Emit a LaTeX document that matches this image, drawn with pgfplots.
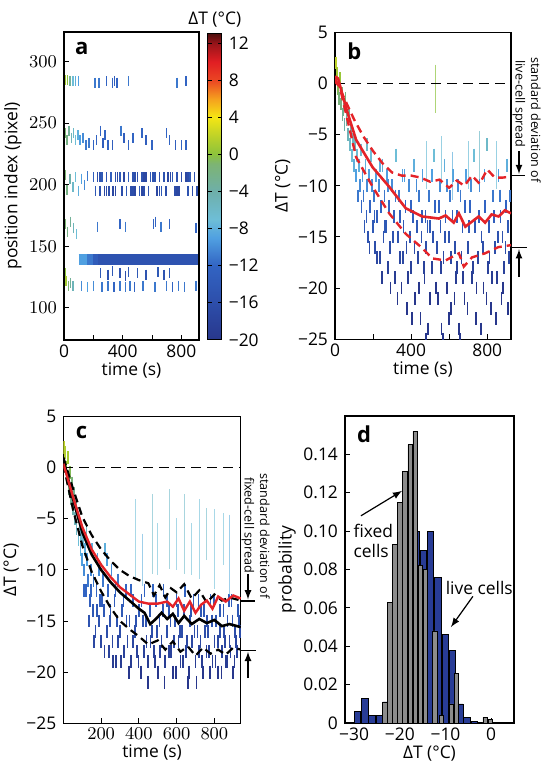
\documentclass[border=0pt]{standalone}
\usepackage{fontspec}
\setmainfont{Open Sans}
\usepackage{pgfplots}
\usepackage{pgfplotstable}
\pgfplotsset{compat=1.18}

\definecolor{barblue}{RGB}{40,60,150}
\definecolor{bargray}{RGB}{140,140,140}
\definecolor{curvered}{RGB}{228,35,40}

\pgfplotsset{
  colormap={dT}{rgb255(0cm)=(40,55,140) rgb255(4cm)=(45,78,170) rgb255(8cm)=(50,100,195)
    rgb255(11cm)=(80,160,225) rgb255(13cm)=(110,190,215) rgb255(16cm)=(110,175,170)
    rgb255(19cm)=(125,180,115) rgb255(20cm)=(140,195,60) rgb255(22cm)=(190,210,40)
    rgb255(24cm)=(245,230,20) rgb255(26cm)=(245,160,30) rgb255(28cm)=(235,70,35)
    rgb255(30cm)=(225,30,35) rgb255(32cm)=(150,20,25) rgb255(33cm)=(80,15,15)},
  panel/.style={
    scale only axis,
    axis line style={line width=0.6pt},
    tick pos=left,
    tick style={black, line width=0.5pt},
    major tick length=2.5pt,
    tick label style={font=\fontsize{8.7}{10}\selectfont},
    label style={font=\fontsize{8.7}{10}\selectfont},
    xticklabel style={yshift=1pt},
    xlabel style={yshift=4.5pt},
    ylabel style={yshift=-3pt},
    colormap name=dT,
    point meta min=-20, point meta max=13,
    clip marker paths=true,
  },
  streaks/.style={scatter, only marks, mark=|, mark size=#1,
    scatter/use mapped color={draw=mapped color, fill=mapped color},
    mark options={line width=0.85pt}},
}

% panel a: streaks (time, position, dT)
\pgfplotstableread{
x y c
10 285 1
25 285 0
40 284 -3
60 284 -7
80 284 -8
100 284 -9
210 283 -11
240 283 -11
290 284 -12
330 283 -12
345 284 -13
360 283 -12
440 284 -11
770 283 -11
830 284 -12
10 242 -1
20 236 -2
35 244 -3
50 238 -5
65 242 -6
80 236 -7
95 240 -8
110 236 -9
130 238 -10
150 232 -11
170 234 -11
200 232 -12
220 236 -12
250 244 -12
265 234 -13
280 240 -12
300 232 -12
330 232 -13
390 244 -11
410 238 -13
440 232 -12
470 238 -12
530 242 -12
560 236 -13
600 232 -12
700 242 -12
720 236 -12
760 232 -13
800 232 -12
830 232 -12
10 208 -1
20 196 -2
40 205 -4
60 198 -6
80 206 -7
100 195 -8
120 205 -9
140 200 -10
160 207 -11
200 206 -13
215 195 -14
230 206 -16
245 195 -15
260 206 -14
275 195 -17
290 206 -15
305 195 -16
320 206 -13
335 195 -17
350 206 -16
380 206 -14
395 195 -16
410 206 -17
425 195 -14
440 206 -13
455 195 -16
470 206 -15
485 195 -17
500 206 -16
515 195 -14
530 206 -15
545 195 -16
560 206 -17
575 195 -15
590 206 -14
620 206 -15
635 195 -17
650 206 -16
665 195 -14
680 206 -15
695 195 -16
710 206 -17
740 206 -14
755 195 -16
770 206 -15
785 195 -17
800 206 -16
830 206 -17
845 195 -15
860 206 -14
875 195 -16
890 206 -15
905 195 -16
245 206 -15
365 206 -17
485 206 -16
545 206 -17
605 206 -15
725 206 -17
845 206 -16
290 195 -16
350 195 -17
470 195 -16
530 195 -17
650 195 -16
770 195 -17
10 168 -1
25 162 -2
45 170 -3
65 165 -5
85 160 -7
230 166 -11
380 168 -12
420 166 -11
610 168 -12
625 170 -12
660 166 -11
720 168 -12
900 165 -12
250 128 -14
300 127 -15
330 130 -14
380 128 -15
420 126 -16
440 129 -14
500 128 -14
560 127 -15
640 129 -14
680 127 -15
720 128 -14
10 128 0
15 122 1
30 118 -1
45 120 -3
60 118 -5
120 118 -10
160 117 -9
200 118 -10
260 117 -11
300 118 -11
340 117 -12
380 118 -11
420 117 -11
450 118 -11
480 117 -12
540 118 -11
620 117 -11
700 118 -11
740 117 -12
780 118 -11
820 117 -11
900 118 -11
}\streaksA

% panel b: live-cell traces (time, dT)
\pgfplotstableread{
x y
5 2
10 1
15 -0.5
20 -1.5
25 0.5
30 -2
35 -1
40 -3
45 -2.5
50 -4
55 -1.5
60 -3.5
70 -5
75 -3
80 -6
85 -4.5
90 -7
95 -5.5
100 -8
105 -6
110 -9
115 -7
120 -11
125 -8
130 -10
135 -6.5
140 -12
145 -9
150 -11
160 -8
165 -13
170 -10
175 -15
180 -9
185 -12
190 -7
200 -14
205 -11
210 -16
215 -9
220 -13
230 -10
235 -17
240 -12
250 -8
255 -15
260 -11
270 -14
275 -9
280 -18
285 -12
290 -16
300 -10
310 -13
315 -19
320 -7
330 -15
335 -11
340 -17
350 -20
355 -9
360 -14
370 -12
375 -16
380 -22
390 -10
395 -15
400 -18
410 -13
415 -8
420 -21
430 -14
435 -17
440 -11
450 -23
455 -15
460 -9
470 -19
475 -13
480 -16
490 -24
495 -11
500 -14
510 -18
520 -7
525 -12
535 -16
540 -21
550 -10
555 -14
560 -24
570 -17
575 -8
580 -13
590 -20
600 -15
605 -11
610 -22
620 -9
630 -16
635 -19
640 -13
650 -24
660 -11
665 -17
670 -14
680 -21
690 -9
700 -16
710 -12
720 -19
730 -7
735 -14
740 -23
750 -17
760 -10
770 -15
780 -20
790 -12
800 -6
805 -18
810 -14
820 -22
830 -11
840 -16
850 -19
860 -9
870 -13
875 -21
880 -15
890 -18
900 -12
905 -8
910 -14
915 -17
155 -14
168 -6
182 -16
196 -10
208 -13
222 -17
238 -8
248 -19
262 -14
278 -10
292 -20
305 -15
318 -11
328 -21
342 -13
358 -17
366 -9
384 -19
398 -12
406 -23
418 -16
428 -10
442 -20
458 -13
466 -18
478 -25
486 -14
498 -21
508 -9
516 -15
532 -20
546 -12
558 -18
566 -25
578 -15
588 -10
598 -23
608 -17
618 -13
628 -21
642 -18
648 -10
658 -25
672 -19
684 -12
696 -22
706 -14
716 -10
726 -18
744 -20
756 -13
766 -24
776 -16
786 -9
796 -21
812 -17
826 -19
836 -13
846 -23
856 -15
866 -11
884 -20
896 -16
908 -22
918 -11
}\streaksB

% panel c: fixed-cell traces (time, dT)
\pgfplotstableread{
x y
5 2
10 1.5
15 0
20 -1
25 1
30 -2
35 -0.5
40 -3
45 -1.5
50 -4
55 -2.5
60 -5
65 -3.5
70 -6
75 -4.5
80 -7
85 -5.5
90 -8
95 -6.5
100 -9
105 -7
110 -10
115 -8
120 -12
125 -9
130 -11
140 -13
145 -10
150 -8
155 -14
160 -11
170 -16
175 -12
180 -9
190 -15
195 -13
200 -17
210 -11
215 -14
220 -8
230 -16
235 -12
240 -18
250 -14
255 -10
260 -17
270 -13
280 -19
285 -15
290 -11
300 -16
310 -14
320 -18
330 -12
340 -17
350 -15
360 -19
370 -13
380 -16
390 -18
400 -14
410 -20
420 -15
430 -12
440 -17
450 -19
460 -14
470 -16
480 -18
490 -13
500 -20
510 -15
520 -17
530 -12
540 -19
550 -16
560 -14
570 -18
580 -20
590 -15
600 -13
610 -17
620 -19
630 -16
640 -14
650 -18
660 -21
670 -15
680 -17
690 -13
700 -19
710 -16
720 -18
730 -14
740 -20
750 -16
760 -15
770 -18
780 -13
790 -19
800 -17
810 -15
820 -20
830 -14
840 -18
850 -16
860 -19
870 -15
880 -17
890 -13
900 -20
910 -16
920 -18
930 -15
108 -12
122 -6
135 -15
148 -12
162 -17
178 -14
188 -10
204 -13
218 -18
232 -9
246 -15
262 -19
276 -12
288 -17
306 -19
318 -13
334 -15
346 -20
358 -12
368 -17
386 -15
398 -19
414 -13
426 -18
438 -15
448 -21
462 -17
476 -12
486 -19
496 -16
512 -18
526 -14
536 -21
548 -13
558 -18
568 -15
586 -17
596 -20
606 -14
616 -16
634 -19
646 -12
656 -17
666 -20
676 -14
694 -16
706 -21
716 -13
726 -17
736 -19
746 -14
758 -18
768 -16
776 -20
788 -15
798 -13
806 -19
818 -17
828 -16
838 -20
848 -14
858 -17
868 -19
876 -13
886 -18
896 -15
906 -19
916 -17
926 -14
936 -16
}\streaksC

\begin{document}
\begin{tikzpicture}
\useasboundingbox (0,0) rectangle (272pt,-381pt);

% ---------------- a ----------------
\begin{axis}[panel,
  at={(32pt,-16pt)}, anchor=north west,
  width=67.5pt, height=154pt,
  xmin=0, xmax=920, ymin=74, ymax=324,
  xtick={0,200,...,800}, xticklabels={0,,400,,800},
  ytick={100,150,...,300},
  xlabel={time (s)}, ylabel={position index (pixel)},
  colorbar,
  colorbar style={
    at={(1.065,0.994)}, anchor=north west,
    scale only axis, width=7pt, height=153pt,
    ytick={-20,-16,...,12},
    yticklabels={−20,−16,−12,−8,−4,0,4,8,12},
    yticklabel pos=right,
    tick label style={font=\fontsize{8.7}{10}\selectfont},
    major tick length=2pt,
    title={ΔT (°C)},
    title style={font=\fontsize{8.7}{10}\selectfont, yshift=-6pt},
  },
]
\addplot[mesh, line width=5.5pt, point meta=explicit, forget plot]
  table[meta=c] {
x y c
100 139 -8
160 139 -10
200 139 -12
230 139 -15
910 139 -15
};
\addplot[streaks=2.5pt, point meta=explicit, mark options={line width=0.75pt}]
  table[x=x, y=y, meta=c] {\streaksA};
\node[anchor=north west, font=\bfseries\fontsize{11}{12}\selectfont] at (rel axis cs:0.03,0.99) {a};
\end{axis}

% ---------------- b ----------------
\begin{axis}[panel,
  at={(167.5pt,-16.2pt)}, anchor=north west,
  width=88pt, height=153.4pt,
  xmin=0, xmax=925, ymin=-25, ymax=5,
  xtick={0,200,...,800}, xticklabels={0,,400,,800},
  ytick={-25,-20,...,5}, yticklabels={−25,−20,−15,−10,−5,0,5},
  xlabel={time (s)}, ylabel={ΔT (°C)},
]
\addplot[streaks=3.2pt, point meta=y] table[x=x, y=y] {\streaksB};
\addplot[streaks=12pt, point meta=explicit, mark options={line width=0.5pt, opacity=0.7}]
  table[meta=c] {
x y c
480 -8 -7
527 -0.5 0
560 -7.5 -7
620 -9 -8
700 -8 -7
760 -7 -6
850 -8 -7
};
\addplot[black, dash pattern=on 5pt off 3pt, line width=0.6pt] coordinates {(0,0) (925,0)};
\addplot[curvered, line width=1.2pt, dash pattern=on 4pt off 2.5pt] coordinates {
(0,0.5) (50,-1.5) (100,-3.5) (150,-5.2) (200,-6.6) (250,-7.8) (300,-8.7) (350,-9.0)
(400,-9.0) (450,-9.2) (500,-9.6) (550,-9.4) (600,-10.2) (640,-9.5) (680,-10.0)
(720,-9.0) (760,-9.8) (800,-8.4) (840,-9.2) (880,-9.2) (925,-9.1)};
\addplot[curvered, line width=1.2pt, dash pattern=on 4pt off 2.5pt] coordinates {
(0,0.2) (25,-0.3) (111,-7.2) (198,-10.1) (285,-12.7) (372,-14.7) (459,-16.1) (511,-17.1)
(581,-17.3) (651,-16.6) (677,-17.9) (720,-17.0) (789,-16.6) (858,-16.0) (925,-15.8)};
\addplot[curvered, line width=1.3pt] coordinates {
(0,0.7) (16,0.5) (60,-2.5) (111,-5.5) (198,-8.2) (285,-10.1) (372,-12.2) (459,-13.0)
(546,-13.2) (581,-12.9) (624,-13.6) (651,-12.7) (685,-14.0) (720,-13.5) (755,-13.0)
(789,-13.6) (823,-12.8) (860,-13.0) (893,-12.4) (925,-12.7)};
\node[anchor=north west, font=\bfseries\fontsize{11}{12}\selectfont] at (rel axis cs:0.03,0.99) {b};
\end{axis}

% ---------------- c ----------------
\begin{axis}[panel,
  at={(31.7pt,-208.3pt)}, anchor=north west,
  width=88.7pt, height=153.3pt,
  xmin=0, xmax=940, ymin=-25, ymax=5,
  xtick={200,400,600,800},
  ytick={-25,-20,...,5}, yticklabels={−25,−20,−15,−10,−5,0,5},
  xlabel={time (s)}, ylabel={ΔT (°C)},
]
\addplot[streaks=3.2pt, point meta=y] table[x=x, y=y] {\streaksC};
\addplot[streaks=20pt, point meta=explicit, mark options={line width=0.5pt, opacity=0.6}]
  table[meta=c] {
x y c
380 -7 -7
470 -6.5 -6
560 -6 -6
640 -6.5 -6
720 -7 -7
800 -8 -7
880 -8.5 -8
};
\addplot[streaks=13pt, point meta=explicit, mark options={line width=0.5pt, opacity=0.6}]
  table[meta=c] {
x y c
420 -9 -8
500 -8 -7
600 -7.5 -7
680 -8 -7
760 -6.5 -6
850 -7 -7
};
\addplot[black, dash pattern=on 5pt off 3pt, line width=0.6pt] coordinates {(0,0) (940,0)};
\addplot[black, line width=1.1pt, dash pattern=on 4pt off 2.5pt] coordinates {
(0,1) (50,-2) (100,-4.8) (150,-6.6) (200,-8) (250,-9.1) (300,-10) (350,-10.6)
(400,-11.0) (450,-11.3) (480,-12.5) (510,-11.5) (540,-12.7) (570,-11.8) (600,-12.2)
(640,-11.4) (680,-12.8) (720,-12.0) (760,-13.2) (800,-12.4) (840,-13) (880,-12.7) (940,-13.0)};
\addplot[black, line width=1.1pt, dash pattern=on 4pt off 2.5pt] coordinates {
(0,0.3) (50,-4.0) (100,-7.6) (150,-10.2) (200,-12.1) (250,-13.7) (300,-15) (350,-15.8)
(400,-16.5) (450,-17.3) (500,-16.9) (540,-17.8) (580,-17.0) (620,-18.0) (660,-17.5)
(700,-18.4) (740,-17.6) (780,-18.2) (820,-17.8) (860,-18.3) (900,-17.6) (940,-17.8)};
\addplot[black, line width=1.3pt] coordinates {
(0,0.8) (50,-3) (100,-6.3) (150,-8.5) (200,-10) (250,-11.2) (300,-12.2) (350,-13)
(400,-13.8) (430,-14.2) (460,-15.3) (490,-14.8) (520,-14.2) (550,-14.8) (580,-14.3)
(610,-15.2) (640,-14.5) (680,-15.3) (720,-14.8) (760,-15.2) (800,-14.9) (840,-15.5)
(880,-15.3) (940,-15.6)};
\addplot[curvered, line width=1.2pt] coordinates {
(0,0.4) (50,-2.8) (100,-5.8) (150,-8) (200,-9.5) (250,-10.7) (300,-11.7) (350,-12.4)
(400,-13.1) (450,-13.3) (500,-13.3) (550,-13.1) (580,-13.6) (610,-12.8) (640,-14.0)
(670,-13.1) (700,-14.2) (730,-13.4) (760,-13.0) (790,-13.8) (820,-12.6) (860,-13.1)
(900,-12.5) (940,-12.8)};
\node[anchor=north west, font=\bfseries\fontsize{11}{12}\selectfont] at (rel axis cs:0.03,0.99) {c};
\end{axis}

% ---------------- d ----------------
\begin{axis}[panel,
  at={(172.5pt,-208pt)}, anchor=north west,
  width=84.5pt, height=153.5pt,
  xmin=-32, xmax=5, ymin=0, ymax=0.16,
  xtick={-30,-20,-10,0}, xticklabels={−30,−20,−10,0},
  ytick={0,0.02,...,0.14},
  yticklabels={0,0.02,0.04,0.06,0.08,0.10,0.12,0.14},
  xlabel={ΔT (°C)}, ylabel={probability},
]
\addplot[ybar, bar width=1.4, fill=barblue, draw=black, line width=0.3pt] coordinates {
(-29.3,0.006) (-27.7,0.013) (-26.1,0.004) (-24.5,0.004) (-22.9,0.011) (-21.3,0.048)
(-19.7,0.07) (-18.1,0.09) (-16.5,0.1) (-14.9,0.09) (-13.3,0.100) (-11.7,0.076)
(-10.1,0.046) (-8.5,0.038) (-6.9,0.010) (-5.3,0.003) (-3.7,0.001)};
\addplot[ybar, bar width=1.0, fill=bargray, draw=black, line width=0.3pt] coordinates {
(-23.3,0.011) (-22.25,0.063) (-21.15,0.093) (-20.0,0.115) (-18.85,0.131) (-17.75,0.145)
(-16.65,0.152) (-15.55,0.082) (-14.45,0.080) (-12.3,0.048) (-10.9,0.004) (-8.7,0.010)
(-7.6,0.026) (-1.3,0.003) (-0.2,0.002)};
\draw[-latex, line width=0.6pt] (axis cs:-28.5,0.108) -- (axis cs:-19.5,0.121);
\draw[-latex, line width=0.6pt] (axis cs:-4,0.066) -- (axis cs:-8.8,0.050);
\node[anchor=north west, align=left, font=\fontsize{8.7}{10}\selectfont, inner sep=0pt]
  at (axis cs:-30.2,0.104) {fixed\\cells};
\node[font=\fontsize{8.7}{10}\selectfont, inner sep=0pt] at (axis cs:-2.6,0.0705) {live cells};
\node[anchor=north west, font=\bfseries\fontsize{11}{12}\selectfont] at (rel axis cs:0.03,0.99) {d};
\end{axis}

% ---------------- spread annotations ----------------
\begin{scope}[line width=0.6pt, font=\fontsize{6.3}{7.5}\selectfont]
\draw (256pt,-87.85pt) -- (262.5pt,-87.85pt);
\draw (256pt,-123.85pt) -- (263.5pt,-123.85pt);
\draw[-latex] (259.5pt,-75.5pt) -- (259.5pt,-87pt);
\draw[-latex] (259.5pt,-138.5pt) -- (259.5pt,-124.6pt);
\node[rotate=-90, inner sep=0pt] at (268pt,-60pt) {standard deviation of};
\node[rotate=-90, inner sep=0pt] at (259.5pt,-52pt) {live-cell spread};
\draw (120.35pt,-300.5pt) -- (127.5pt,-300.5pt);
\draw (120.35pt,-325.15pt) -- (128pt,-325.15pt);
\draw[-latex] (124pt,-287pt) -- (124pt,-299.7pt);
\draw[-latex] (124pt,-339pt) -- (124pt,-325.9pt);
\node[rotate=-90, inner sep=0pt] at (132.5pt,-268pt) {standard deviation of};
\node[rotate=-90, inner sep=0pt] at (124pt,-262.5pt) {fixed-cell spread};
\end{scope}
\end{tikzpicture}
\end{document}
